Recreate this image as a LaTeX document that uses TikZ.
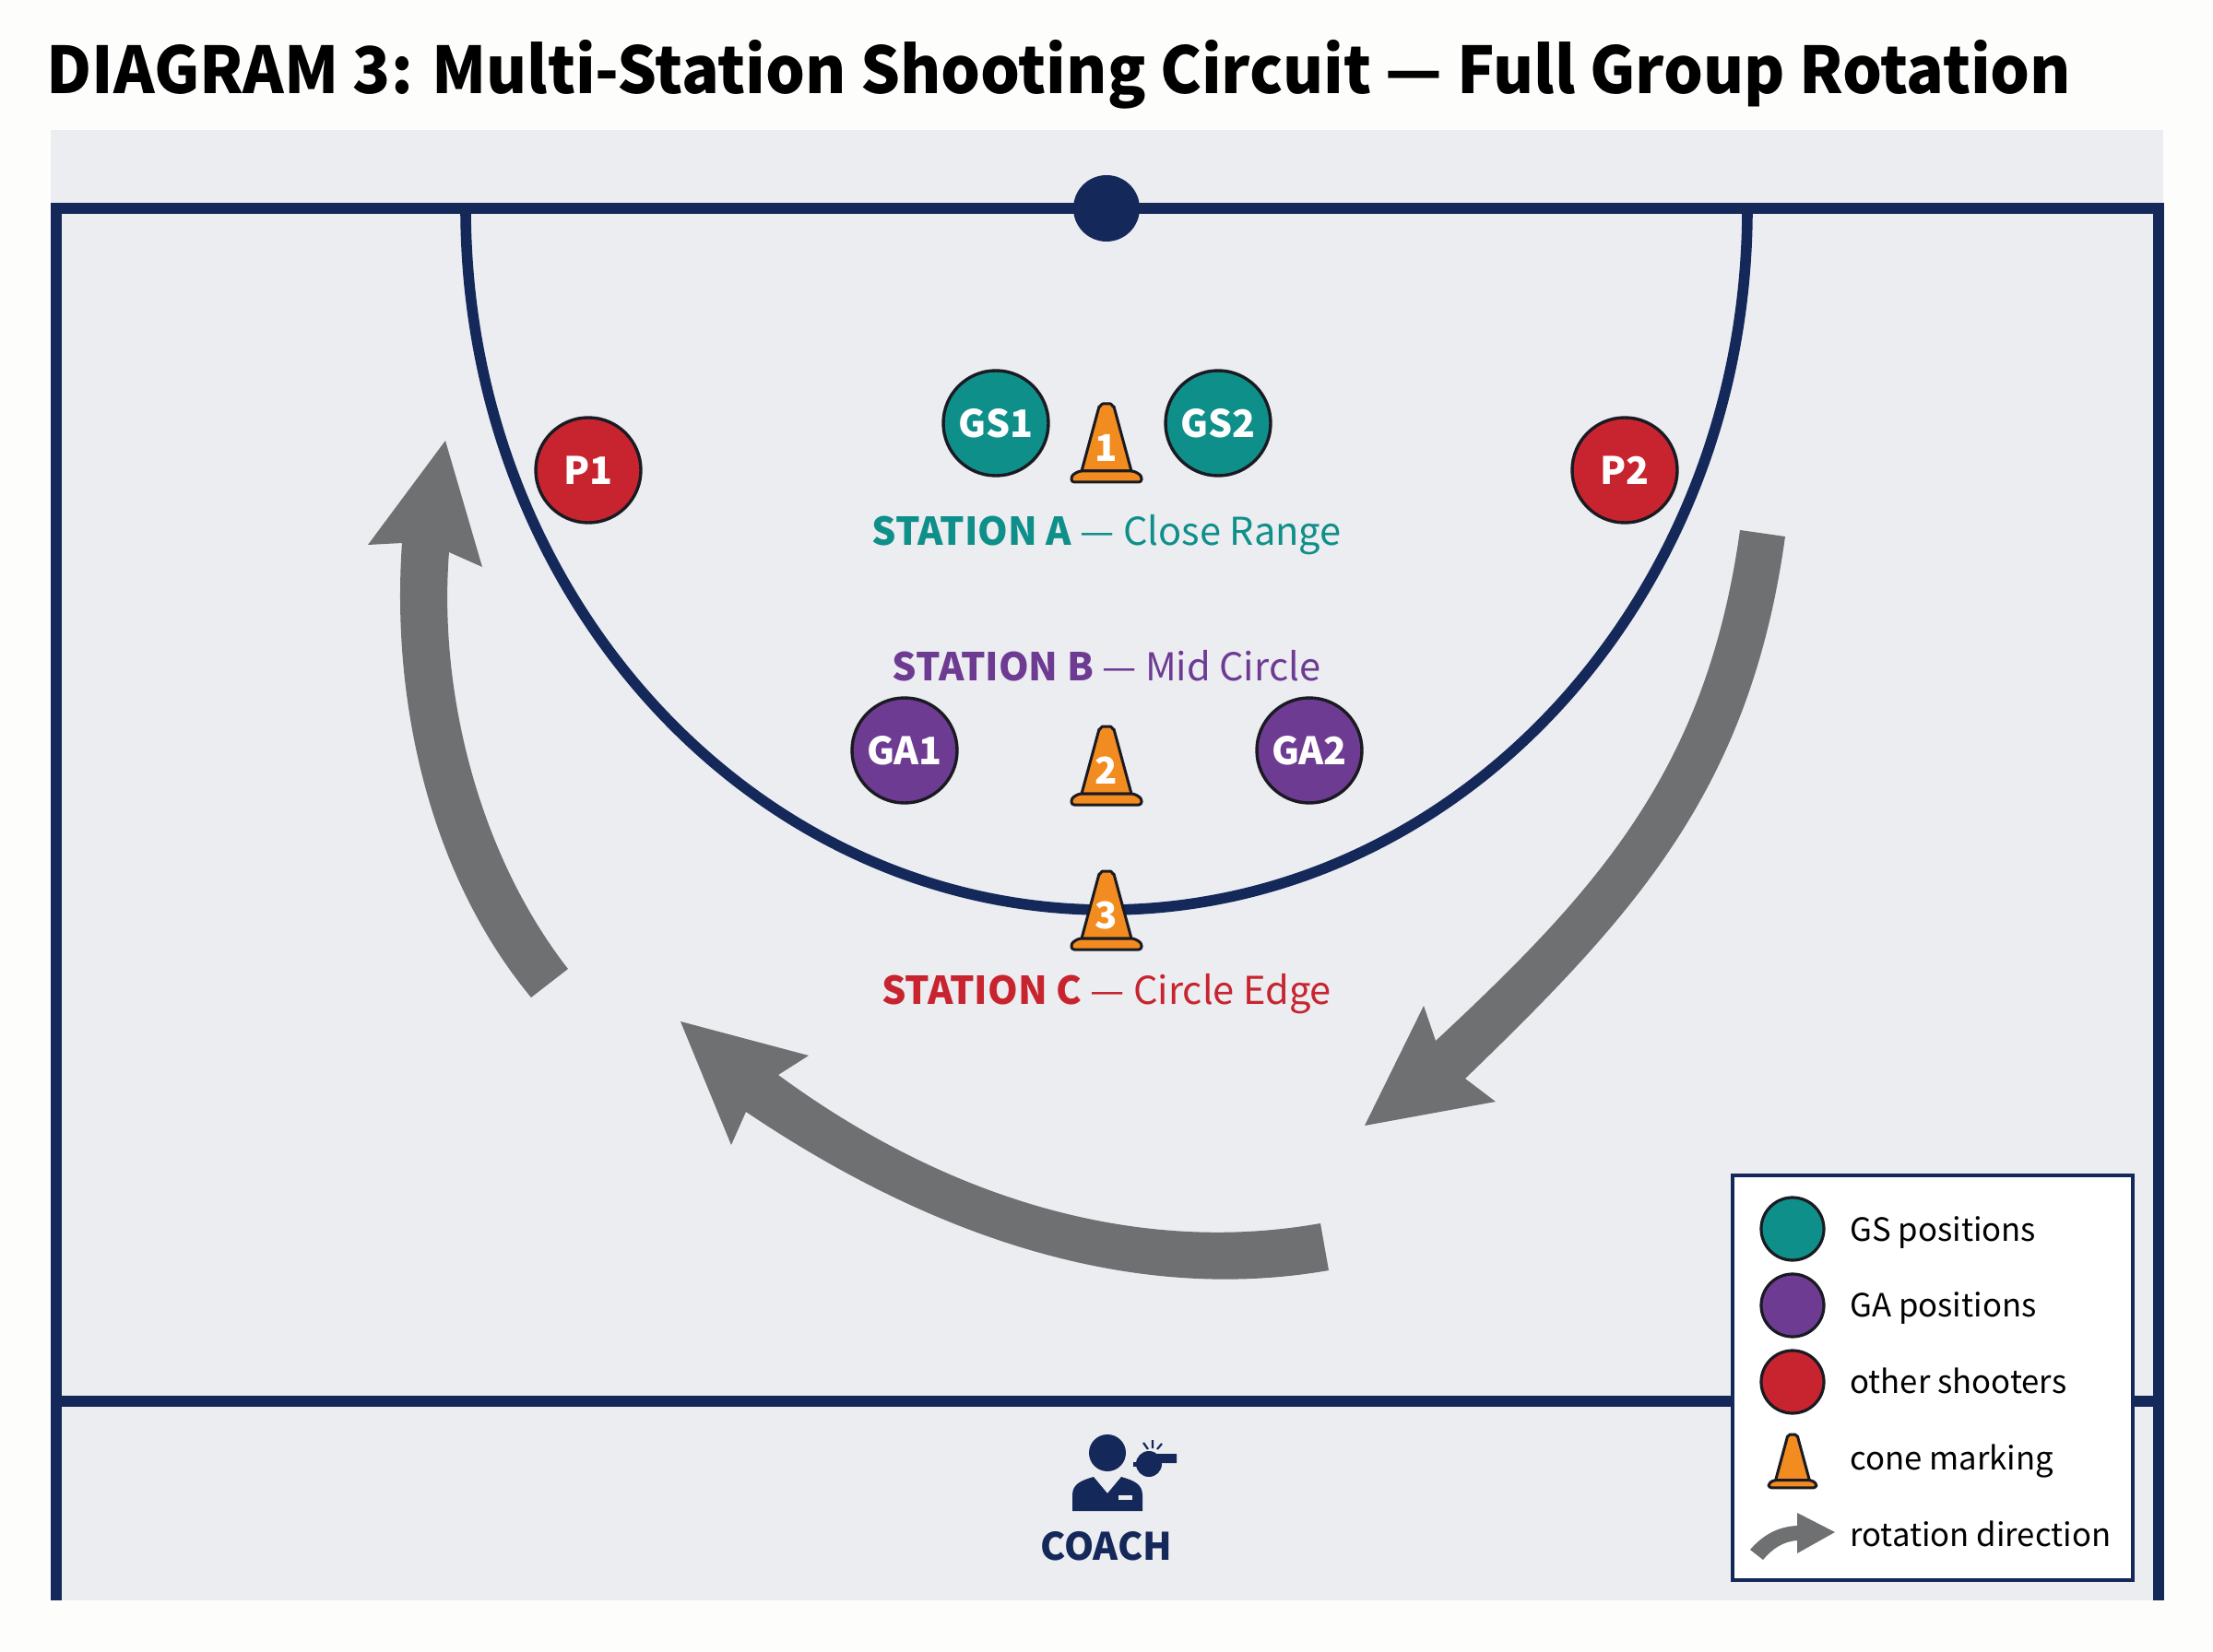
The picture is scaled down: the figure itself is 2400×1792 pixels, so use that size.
\documentclass[tikz,border=0pt]{standalone}
\usepackage{fontspec}
\setmainfont{Noto Sans CJK SC}
\newfontfamily\titlefont[FakeStretch=0.965]{Noto Sans CJK SC}
\usetikzlibrary{arrows.meta}
\definecolor{navy}{HTML}{14285A}
\definecolor{courtbg}{HTML}{ECEDF1}
\definecolor{pagebg}{HTML}{FDFDFB}
\definecolor{tealc}{HTML}{0F8F8A}
\definecolor{purpc}{HTML}{6E3B93}
\definecolor{redc}{HTML}{C8242F}
\definecolor{orangec}{HTML}{F28C20}
\definecolor{grayc}{HTML}{6F7072}
\definecolor{inkc}{HTML}{1A1A22}
\tikzset{
  x=0.5pt,y=-0.5pt,
  court/.style={draw=navy,line width=6pt},
  player/.style={circle,draw=inkc,line width=1.7pt,minimum size=57pt,inner sep=0pt,text=white,font=\fontsize{20.5}{20.5}\selectfont\bfseries},
  keydot/.style={circle,draw=inkc,line width=1.6pt,minimum size=34pt,inner sep=0pt},
  stationlabel/.style={font=\fontsize{20.8}{20.8}\selectfont,inner sep=0pt,anchor=base},
  keytext/.style={font=\fontsize{17.35}{17.35}\selectfont,text=black,anchor=base west,inner sep=0pt},
  rothead/.style={fill=grayc,draw=none},
  conefill/.style={fill=orangec,draw=inkc,line width=1.5pt,line join=round},
  conenum/.style={text=white,font=\fontsize{20}{20}\selectfont\bfseries,inner sep=0pt},
}
\newcommand{\conemark}[5]{% name, x, y, scale, number
  \begin{scope}[shift={(#2,#3)},scale=#4]
    \draw[conefill] (-8,3) to[out=-70,in=180] (-4,0) -- (4,0) to[out=0,in=-110] (8,3) -- (27,73) -- (-27,73) -- cycle;
    \draw[conefill,rounded corners=1.5pt] (-38,85) -- (-38,78) -- (-30,73) -- (30,73) -- (38,78) -- (38,85) -- cycle;
    \node[conenum] (#1) at (0,48) {#5};
  \end{scope}}
\begin{document}
\begin{tikzpicture}
\useasboundingbox (0,0) rectangle (2400,1792);
\fill[pagebg] (0,0) rectangle (2400,1792);
\node[anchor=base west,inner sep=0pt,font=\titlefont\fontsize{35}{35}\selectfont\bfseries,text=black] (title) at (50,102) {DIAGRAM 3: Multi-Station Shooting Circuit — Full Group Rotation};
\fill[courtbg] (55,141) rectangle (2346,1736);
% court lines
\draw[court] (61,1736) -- (61,226) -- (2341,226) -- (2341,1736);
\draw[court] (61,1520) -- (2341,1520);
\draw[draw=navy,line width=5.8pt] (505,226) arc[start angle=180,end angle=360,x radius=347.5pt,y radius=380.5pt];
\node[circle,fill=navy,minimum size=36pt,inner sep=0pt] (post) at (1200,226) {};
% rotation arrows
\fill[rothead] (1887,575) .. controls (1851,835) and (1733,965) .. (1557,1129)
  -- (1544,1091) -- (1480,1221) -- (1622,1195) -- (1589,1170)
  .. controls (1773,992) and (1898,857) .. (1936,582) -- cycle;
\fill[rothead] (1432,1327) .. controls (1235,1362) and (1029,1302) .. (844,1166)
  -- (877,1145) -- (738,1108) -- (793,1242) -- (809,1206)
  .. controls (1012,1343) and (1229,1415) .. (1441,1378) -- cycle;
\fill[rothead] (576,1082) .. controls (465,948) and (424,759) .. (436,589)
  -- (399,591) -- (483,478) -- (523,615) -- (487,599)
  .. controls (475,754) and (521,929) .. (616,1051) -- cycle;
% players
\node[player,fill=tealc] (GS1) at (1080,459) {GS1};
\node[player,fill=tealc] (GS2) at (1321,459) {GS2};
\node[player,fill=redc] (P1) at (638,510) {P1};
\node[player,fill=redc] (P2) at (1762,510) {P2};
\node[player,fill=purpc] (GA1) at (981,814) {GA1};
\node[player,fill=purpc] (GA2) at (1420,814) {GA2};
% cones
\conemark{cone1}{1200}{438}{1}{1}
\conemark{cone2}{1200}{788}{1}{2}
\conemark{cone3}{1200}{945}{1}{3}
% station labels
\node[stationlabel,text=tealc] (stA) at (1200,591) {\textbf{STATION A} — Close Range};
\node[stationlabel,text=purpc] (stB) at (1200,738) {\textbf{STATION B} — Mid Circle};
\node[stationlabel,text=redc] (stC) at (1200,1089) {\textbf{STATION C} — Circle Edge};
% coach
\fill[navy] (1201,1576) circle[radius=10pt];
\fill[navy] (1163,1639) -- (1163,1622) .. controls (1163,1610) and (1172,1606) .. (1186,1602) -- (1201,1620) -- (1216,1602) .. controls (1230,1606) and (1239,1610) .. (1239,1622) -- (1239,1639) -- cycle;
\fill[courtbg] (1213,1622) rectangle (1228,1627);
\fill[navy] (1246,1588) circle[radius=7pt];
\fill[navy] (1246,1577) -- (1276,1577) -- (1276,1587) -- (1256,1587) -- cycle;
\fill[navy] (1229,1586) rectangle (1236,1591);
\draw[navy,line width=1.1pt] (1240,1565) -- (1245,1572) (1250,1562) -- (1250,1571) (1260,1566) -- (1255,1572);
\node[anchor=base,inner sep=0pt,text=navy,font=\fontsize{20.5}{20.5}\selectfont\bfseries] (coach) at (1200,1692) {COACH};
% legend
\draw[draw=navy,line width=1.6pt,fill=white] (1879,1275) rectangle (2313,1714);
\node[keydot,fill=tealc] (k1) at (1944,1333) {};
\node[keydot,fill=purpc] (k2) at (1944,1416) {};
\node[keydot,fill=redc] (k3) at (1944,1499) {};
\conemark{k4}{1944}{1556}{0.68}{}
\fill[rothead] (1898,1681) .. controls (1912,1665) and (1928,1656) .. (1949,1655) -- (1949,1641) -- (1990,1662) -- (1949,1685) -- (1949,1671) .. controls (1934,1672) and (1922,1680) .. (1912,1692) -- cycle;
\node[keytext] (t1) at (2006,1346) {GS positions};
\node[keytext] (t2) at (2006,1428) {GA positions};
\node[keytext] (t3) at (2006,1511) {other shooters};
\node[keytext] (t4) at (2006,1594) {cone marking};
\node[keytext] (t5) at (2006,1677) {rotation direction};
\end{tikzpicture}
\end{document}
